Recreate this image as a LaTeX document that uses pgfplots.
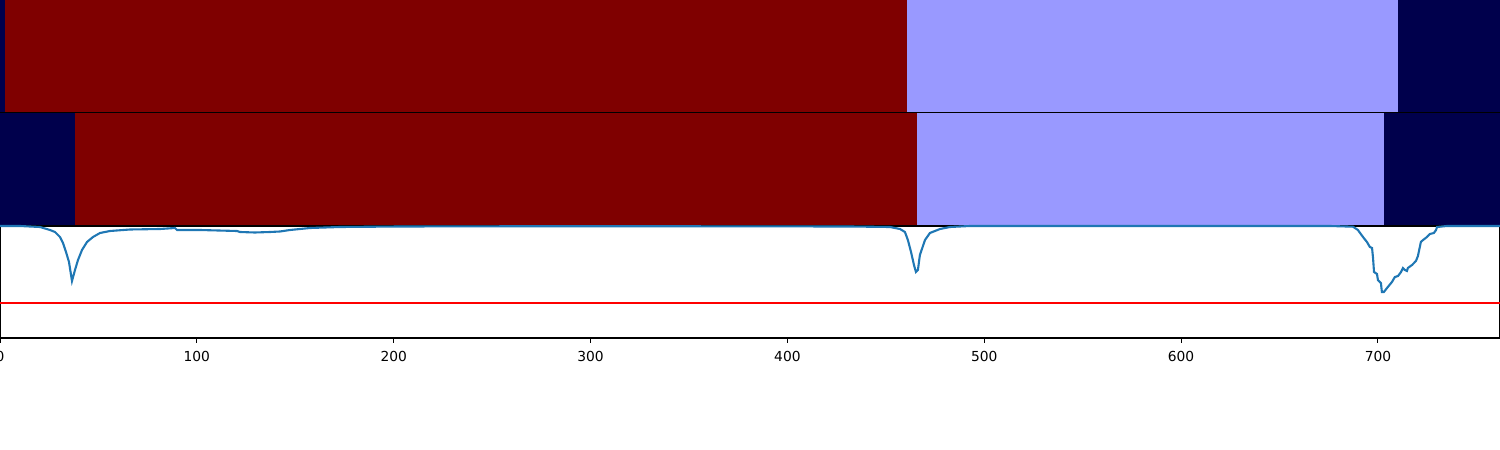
\documentclass[border=0pt]{standalone}
\usepackage{fontspec}
\setmainfont{DejaVu Sans}
\usepackage{pgfplots}
\pgfplotsset{compat=1.18}
\definecolor{segnavy}{RGB}{0,0,76}
\definecolor{segred}{RGB}{127,0,0}
\definecolor{seglight}{RGB}{153,153,255}
\definecolor{mplblue}{RGB}{31,119,180}
\pgfplotsset{
  segpanel/.style={
    width=750pt, height=56pt, scale only axis,
    xmin=0, xmax=762, ymin=0, ymax=1,
    axis line style={black, line width=0.6pt},
    xtick=\empty, ytick=\empty,
    anchor=south west,
  },
}
\begin{document}
\begin{tikzpicture}
\path[use as bounding box] (0,0) rectangle (750pt,225pt);
% panel 1
\begin{axis}[segpanel, at={(0pt,169pt)}]
\addplot[fill=segnavy, draw=none] coordinates {(0,0) (2.5,0) (2.5,1) (0,1)} -- cycle;
\addplot[fill=segred, draw=none] coordinates {(2.5,0) (460.7,0) (460.7,1) (2.5,1)} -- cycle;
\addplot[fill=seglight, draw=none] coordinates {(460.7,0) (710.2,0) (710.2,1) (460.7,1)} -- cycle;
\addplot[fill=segnavy, draw=none] coordinates {(710.2,0) (762,0) (762,1) (710.2,1)} -- cycle;
\end{axis}
% panel 2
\begin{axis}[segpanel, at={(0pt,112.5pt)}]
\addplot[fill=segnavy, draw=none] coordinates {(0,0) (38.1,0) (38.1,1) (0,1)} -- cycle;
\addplot[fill=segred, draw=none] coordinates {(38.1,0) (465.8,0) (465.8,1) (38.1,1)} -- cycle;
\addplot[fill=seglight, draw=none] coordinates {(465.8,0) (703.0,0) (703.0,1) (465.8,1)} -- cycle;
\addplot[fill=segnavy, draw=none] coordinates {(703.0,0) (762,0) (762,1) (703.0,1)} -- cycle;
\end{axis}
% panel 3
\begin{axis}[
  width=750pt, height=56pt, scale only axis,
  anchor=south west, at={(0pt,56pt)},
  xmin=0, xmax=762, ymin=0, ymax=112,
  axis line style={black, line width=0.6pt},
  ytick=\empty,
  xtick={0,100,...,700},
  xtick pos=bottom, xtick align=outside,
  major tick length=2.4pt,
  tick style={black, line width=0.5pt},
  ticklabel style={font=\fontsize{6.9}{8}\selectfont, text=black},
  /pgf/number format/assume math mode=true,
  xticklabel shift=0.5pt,
  clip=false,
]
\addplot[mplblue, line width=1.05pt] coordinates {
(0,112) (10.16,112) (20.32,111) (25.40,108) (27.94,106) (30.48,101) (32.00,95)
(33.53,86) (35.05,76) (36.57,57) (38.10,68) (39.62,78) (41.65,88) (44.19,96)
(47.24,101) (50.80,105) (55.88,107) (66.04,108.5) (81.28,109) (88.90,110)
(89.91,108) (101.6,108) (120.4,107) (121.9,106) (129.5,105.5) (137.2,106)
(142.2,106.5) (147.3,108) (157.5,110) (172.7,111) (203.2,111.5) (254.0,111.7)
(355.6,111.7) (431.8,111.5) (452.1,111) (457.2,109) (459.7,106) (461.2,98)
(462.8,86) (464.3,73) (465.3,66) (466.3,68) (467.3,83) (469.9,98) (472.4,105)
(477.5,109) (482.6,111) (492.7,112) (558.8,112) (675.6,112) (687.3,111.3)
(689.8,108) (692.4,101) (694.4,96) (695.9,91) (697.0,90) (697.5,80) (698.0,66)
(699.5,64) (700.0,58) (701.5,55) (702.0,46) (703.0,46) (704.6,50) (707.1,56)
(708.6,61) (710.2,62) (711.7,66) (712.7,70) (713.7,68) (714.7,67) (715.2,70)
(717.3,73) (719.3,77) (720.3,82) (721.8,96) (722.9,98) (724.9,101) (726.4,104)
(728.4,105) (729.5,108) (730.0,111) (735.0,112) (762,112)
};
\addplot[red, line width=1pt] coordinates {(0,35) (762,35)};
\end{axis}
\end{tikzpicture}
\end{document}
